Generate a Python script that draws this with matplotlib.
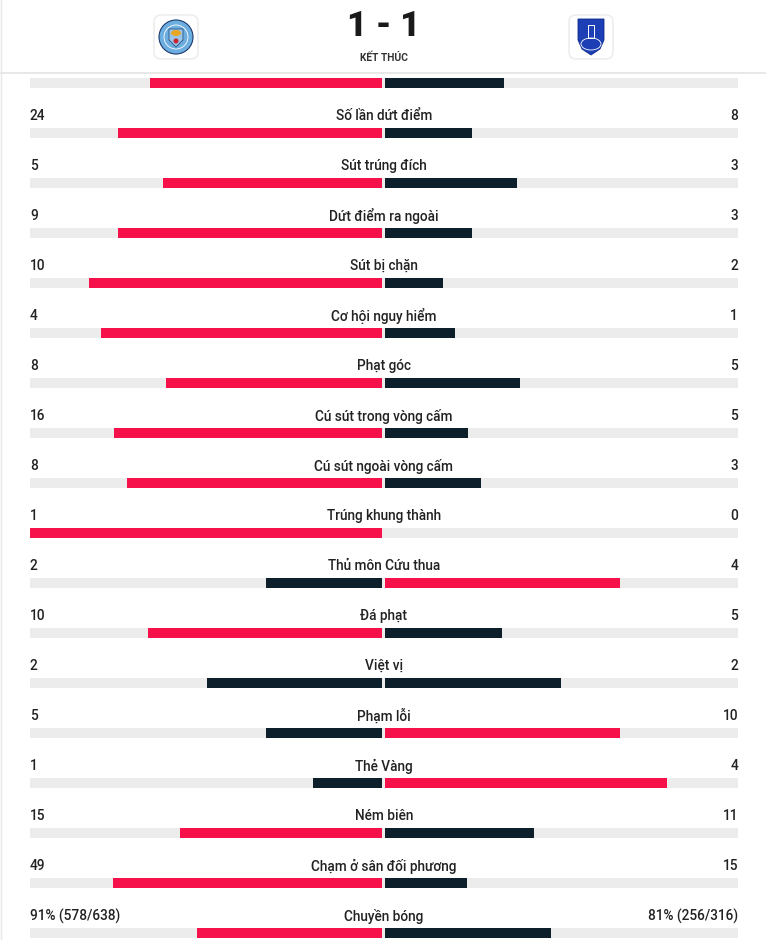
import matplotlib
matplotlib.use("Agg")
import matplotlib.pyplot as plt
from matplotlib.patches import FancyBboxPatch, Rectangle, Polygon, Ellipse

# ---- data ----
labels = ["Kiểm soát bóng", "Số lần dứt điểm", "Sút trúng đích", "Dứt điểm ra ngoài",
          "Sút bị chặn", "Cơ hội nguy hiểm", "Phạt góc", "Cú sút trong vòng cấm",
          "Cú sút ngoài vòng cấm", "Trúng khung thành", "Thủ môn Cứu thua", "Đá phạt",
          "Việt vị", "Phạm lỗi", "Thẻ Vàng", "Ném biên", "Chạm ở sân đối phương",
          "Chuyền bóng"]
home_vals = [66, 24, 5, 9, 10, 4, 8, 16, 8, 1, 2, 10, 2, 5, 1, 15, 49, 91]
away_vals = [34, 8, 3, 3, 2, 1, 5, 5, 3, 0, 4, 5, 2, 10, 4, 11, 15, 81]
home_text = ["66%", "24", "5", "9", "10", "4", "8", "16", "8", "1", "2", "10", "2",
             "5", "1", "15", "49", "91% (578/638)"]
away_text = ["34%", "8", "3", "3", "2", "1", "5", "5", "3", "0", "4", "5", "2",
             "10", "4", "11", "15", "81% (256/316)"]
score_text = "1 - 1"
status_text = "KẾT THÚC"

RED = "#f7114b"
DARK = "#0d1f2a"
TRACK = "#ececec"
TXT = "#222222"

W, H = 766, 940
fig = plt.figure(figsize=(W / 100, H / 100), dpi=100)
fig.patch.set_facecolor("white")
ax = fig.add_axes([0, 0, 1, 1])
ax.set_axis_off()

cx, hw = 384.0, 354.0
row0, step = 83.0, 50.0
ax.set_xlim((0 - cx) / hw, (W - cx) / hw)
ax.set_ylim((H - row0) / step, (0 - row0) / step)

def px_x(p):
    return (p - cx) / hw

def px_y(p):
    return (p - row0) / step

n = len(labels)
rows = list(range(n))
bh = 9.5 / step
gap = 1.5 / hw

ax.barh(rows, [2.0] * n, left=-1.0, height=bh, color=TRACK, zorder=1)

for i in rows:
    h, a = home_vals[i], away_vals[i]
    tot = h + a
    fh = h / tot if tot else 0
    fa = a / tot if tot else 0
    hc = RED if h > a else DARK
    ac = RED if a > h else DARK
    if fh > 0:
        ax.barh(i, -(fh - gap), left=-gap, height=bh, color=hc, zorder=2)
    if fa > 0:
        ax.barh(i, fa - gap, left=gap, height=bh, color=ac, zorder=2)
    if i == 0:
        continue  # first row's texts are hidden under the header in the reference
    ty = i - 17.0 / step
    fs = 9.8
    kw = dict(va="center", fontsize=fs, color=TXT, fontfamily="Roboto",
              fontweight="medium", zorder=3)
    ax.text(-1.0, ty, home_text[i], ha="left", **kw)
    ax.text(1.0, ty, away_text[i], ha="right", **kw)
    ax.text(0.0, ty, labels[i], ha="center", **kw)

# header
ax.add_patch(Rectangle((px_x(0), px_y(0)), px_x(W) - px_x(0), px_y(72) - px_y(0),
                       facecolor="white", edgecolor="none", zorder=5))
ax.plot([px_x(0), px_x(W)], [px_y(72.5), px_y(72.5)], color="#e4e4e4", lw=1.2, zorder=6)
ax.plot([px_x(0.8), px_x(0.8)], [px_y(0), px_y(H)], color="#e8e8e8", lw=1.0, zorder=6)

ax.text(0.0, px_y(26), score_text, ha="center", va="center", fontsize=25,
        color="#1a1a1a", fontfamily="Roboto", fontweight="black", zorder=7)
ax.text(0.0, px_y(58), status_text, ha="center", va="center", fontsize=7.4,
        color="#333333", fontfamily="Roboto", fontweight="bold", zorder=7)

def logo_box(pxc, pyc, s=44):
    x0, x1 = px_x(pxc - s / 2), px_x(pxc + s / 2)
    y0, y1 = px_y(pyc - s / 2), px_y(pyc + s / 2)
    ax.add_patch(FancyBboxPatch((x0, y0), x1 - x0, y1 - y0,
                                boxstyle="round,pad=0,rounding_size=0.02",
                                mutation_aspect=hw / step,
                                facecolor="white", edgecolor="#eeeeee", lw=1.2, zorder=7))

# Man City logo
logo_box(176, 37)
ax.add_patch(Ellipse((px_x(176), px_y(37)), 34 / hw, 34 / step, facecolor="#6caee0",
                     edgecolor="#1c3c6e", lw=0.8, zorder=8))
ax.add_patch(Ellipse((px_x(176), px_y(37)), 24 / hw, 24 / step, facecolor="none",
                     edgecolor="white", lw=0.6, zorder=9))
shield_mc = [(169, 29), (183, 29), (183, 40), (176, 47), (169, 40)]
ax.add_patch(Polygon([(px_x(a), px_y(b)) for a, b in shield_mc], closed=True,
                     facecolor="#98c5e9", edgecolor="#1c3c6e", lw=0.5, zorder=9))
ax.add_patch(Ellipse((px_x(176), px_y(33)), 10 / hw, 6 / step, facecolor="#e9a622",
                     edgecolor="none", zorder=10))
ax.add_patch(Ellipse((px_x(176), px_y(41)), 5 / hw, 5 / step, facecolor="#c8242f",
                     edgecolor="none", zorder=10))

# Everton logo
logo_box(591, 37)
shield = [(578, 19), (604, 19), (604, 40), (600, 49), (591, 55), (582, 49), (578, 40)]
ax.add_patch(Polygon([(px_x(a), px_y(b)) for a, b in shield], closed=True,
                     facecolor="#1d3fb5", edgecolor="#0c2a8a", lw=0.6, zorder=8))
ax.add_patch(Ellipse((px_x(591), px_y(44)), 20 / hw, 12 / step, facecolor="none",
                     edgecolor="white", lw=0.6, zorder=9))
ax.add_patch(Rectangle((px_x(588), px_y(25)), 6 / hw, 13 / step, facecolor="none",
                       edgecolor="white", lw=0.7, zorder=9))

fig.savefig("out.png", dpi=100, facecolor="white")
